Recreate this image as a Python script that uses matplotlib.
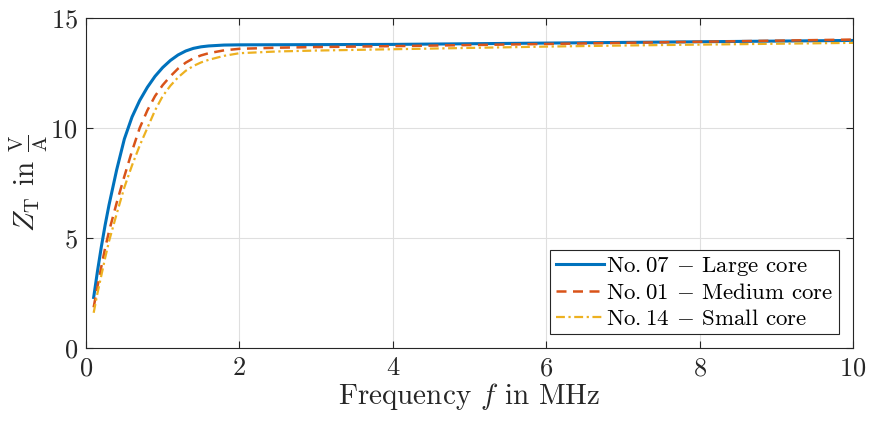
import matplotlib
matplotlib.use("Agg")
import matplotlib.pyplot as plt

plt.rcParams['font.family'] = 'serif'
plt.rcParams['font.serif'] = ['cmr10']
plt.rcParams['mathtext.fontset'] = 'cm'
plt.rcParams['axes.formatter.use_mathtext'] = True

freq = [0.1, 0.15, 0.2, 0.25, 0.3, 0.4, 0.5, 0.6, 0.7, 0.8, 0.9, 1.0, 1.1, 1.2,
        1.3, 1.4, 1.5, 1.6, 1.8, 2.0, 2.5, 3, 4, 5, 6, 7, 8, 9, 10]
z_large = [2.3, 3.5, 4.6, 5.6, 6.5, 8.1, 9.5, 10.5, 11.25, 11.85, 12.35, 12.75,
           13.07, 13.32, 13.5, 13.62, 13.69, 13.73, 13.77, 13.78, 13.785, 13.79,
           13.80, 13.83, 13.86, 13.89, 13.92, 13.95, 13.98]
z_medium = [1.85, 2.8, 3.7, 4.55, 5.3, 6.6, 7.8, 8.95, 10.0, 10.8, 11.45, 11.95,
            12.35, 12.7, 12.97, 13.17, 13.3, 13.4, 13.53, 13.6, 13.65, 13.68,
            13.72, 13.77, 13.82, 13.87, 13.92, 13.97, 14.02]
z_small = [1.6, 2.5, 3.3, 4.1, 4.85, 6.1, 7.3, 8.3, 9.2, 10.0, 10.8, 11.45,
           11.92, 12.3, 12.6, 12.82, 12.98, 13.1, 13.28, 13.4, 13.48, 13.52,
           13.58, 13.64, 13.70, 13.75, 13.79, 13.83, 13.87]
labels = [r"No.$\:$07 $-$ Large core", r"No.$\:$01 $-$ Medium core",
          r"No.$\:$14 $-$ Small core"]
xticks = [0, 2, 4, 6, 8, 10]
yticks = [0, 5, 10, 15]

fig = plt.figure(figsize=(8.7, 4.25), dpi=100)
ax = fig.add_axes([86/870, 1-348/425, (853-86)/870, (348-18)/425])

ax.plot(freq, z_large, color='#0072BD', lw=2.2, ls='-', label=labels[0])
ax.plot(freq, z_medium, color='#D95319', lw=1.8, ls=(0, (4, 2.6)), label=labels[1])
ax.plot(freq, z_small, color='#EDB120', lw=1.6, ls=(0, (4, 1.6, 1, 1.6)), label=labels[2])

ax.set_xlim(0, 10)
ax.set_ylim(0, 15)
ax.set_xticks(xticks)
ax.set_yticks(yticks)
ax.grid(True, color='#dfdfdf', lw=0.8)
ax.set_axisbelow(True)
ax.tick_params(direction='in', top=True, right=True, labelsize=19, length=5,
               color='#262626', labelcolor='#262626', pad=6)
for s in ax.spines.values():
    s.set_color('#262626')
    s.set_linewidth(0.8)

ax.set_xlabel(r"Frequency $f$ in MHz", fontsize=21, color='#262626', labelpad=1)
ax.set_ylabel(r"$Z_\mathrm{T}$ in $\frac{\mathrm{V}}{\mathrm{A}}$", fontsize=21,
              color='#262626', labelpad=0)

leg = ax.legend(loc='lower right', fontsize=16.5, frameon=True, fancybox=False,
                framealpha=1, edgecolor='#262626', handlelength=2.1,
                handletextpad=0.1, borderpad=0.25, labelspacing=0.22,
                borderaxespad=0.6)
leg.get_frame().set_linewidth(0.8)

fig.savefig("out.png", dpi=100)
